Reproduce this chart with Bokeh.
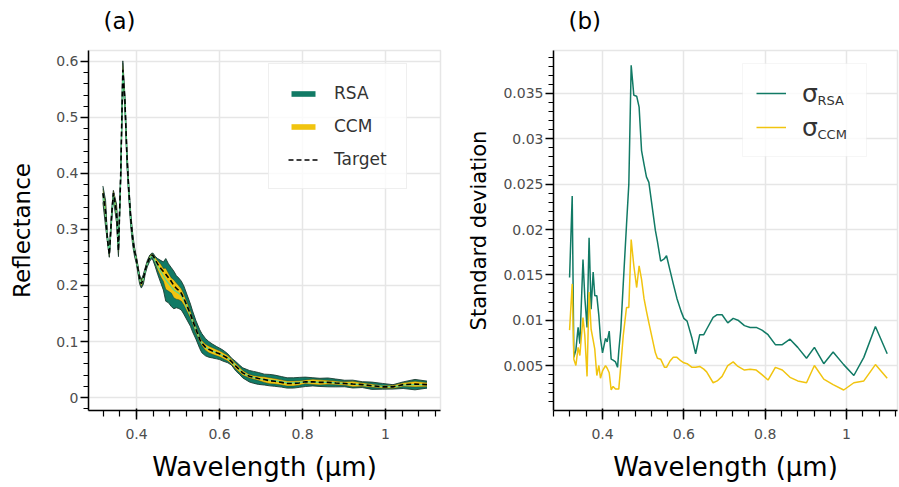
from bokeh.plotting import figure
from bokeh.layouts import row
from bokeh.models import (Range1d, Legend, LegendItem, Label, CustomJSTickFormatter,
                          SingleIntervalTicker, BoxAnnotation, Title)
from bokeh.embed import file_html
from bokeh.resources import INLINE

# ---------------- data ----------------
wavelength = [0.319, 0.3255, 0.3295, 0.3345, 0.340, 0.3443, 0.352, 0.3565, 0.362, 0.367,
              0.372, 0.377, 0.381, 0.386, 0.391, 0.395, 0.400, 0.4074, 0.4115, 0.4165,
              0.4213, 0.426, 0.432, 0.437, 0.440, 0.445, 0.451, 0.459, 0.4647, 0.4705,
              0.477, 0.484, 0.490, 0.496, 0.502, 0.508, 0.514, 0.530, 0.535, 0.543,
              0.5525, 0.5574, 0.566, 0.574, 0.583, 0.593, 0.600, 0.608, 0.620, 0.629,
              0.639, 0.649, 0.656, 0.672, 0.682, 0.694, 0.708, 0.7213, 0.733, 0.749,
              0.763, 0.778, 0.792, 0.807, 0.825, 0.842, 0.861, 0.880, 0.9016, 0.921,
              0.944, 0.967, 0.993, 1.018, 1.0425, 1.071, 1.100]

target = [0.365, 0.330, 0.285, 0.255, 0.325, 0.365, 0.330, 0.262, 0.400, 0.585,
          0.530, 0.430, 0.375, 0.320, 0.282, 0.262, 0.245, 0.212, 0.203, 0.212,
          0.228, 0.240, 0.250, 0.254, 0.253, 0.246, 0.238, 0.230, 0.225, 0.220,
          0.214, 0.207, 0.200, 0.195, 0.191, 0.186, 0.177, 0.149, 0.138, 0.122,
          0.104, 0.097, 0.090, 0.086, 0.083, 0.080, 0.078, 0.075, 0.070, 0.064,
          0.056, 0.049, 0.044, 0.038, 0.036, 0.034, 0.032, 0.030, 0.029, 0.027,
          0.025, 0.025, 0.026, 0.028, 0.028, 0.027, 0.027, 0.026, 0.025, 0.024,
          0.023, 0.021, 0.019, 0.019, 0.023, 0.024, 0.023]

rsa_mean = [0.363, 0.328, 0.287, 0.257, 0.323, 0.362, 0.328, 0.264, 0.398, 0.582,
            0.528, 0.428, 0.373, 0.318, 0.281, 0.261, 0.244, 0.211, 0.203, 0.211,
            0.227, 0.239, 0.249, 0.253, 0.251, 0.243, 0.234, 0.224, 0.217, 0.210,
            0.204, 0.197, 0.192, 0.189, 0.186, 0.182, 0.174, 0.147, 0.136, 0.121,
            0.104, 0.097, 0.090, 0.086, 0.083, 0.080, 0.078, 0.075, 0.070, 0.064,
            0.056, 0.049, 0.044, 0.038, 0.036, 0.034, 0.032, 0.031, 0.030, 0.028,
            0.026, 0.026, 0.027, 0.028, 0.028, 0.027, 0.027, 0.026, 0.025, 0.024,
            0.023, 0.021, 0.020, 0.019, 0.022, 0.023, 0.023]

ccm_mean = [0.364, 0.329, 0.286, 0.256, 0.324, 0.364, 0.329, 0.263, 0.399, 0.584,
            0.529, 0.429, 0.374, 0.319, 0.282, 0.262, 0.245, 0.212, 0.203, 0.212,
            0.228, 0.240, 0.250, 0.254, 0.252, 0.245, 0.236, 0.226, 0.219, 0.212,
            0.206, 0.200, 0.194, 0.190, 0.187, 0.183, 0.175, 0.148, 0.137, 0.121,
            0.104, 0.097, 0.090, 0.086, 0.083, 0.080, 0.078, 0.075, 0.070, 0.064,
            0.056, 0.049, 0.044, 0.038, 0.036, 0.034, 0.032, 0.030, 0.029, 0.027,
            0.025, 0.025, 0.026, 0.028, 0.028, 0.027, 0.027, 0.026, 0.025, 0.024,
            0.023, 0.021, 0.019, 0.019, 0.023, 0.024, 0.023]

sd_rsa = [0.0147, 0.0237, 0.0059, 0.0067, 0.0092, 0.0074, 0.0167, 0.0125, 0.0092, 0.0191,
          0.0112, 0.0153, 0.0127, 0.0127, 0.0105, 0.0080, 0.0064, 0.0080, 0.0076, 0.0088,
          0.0057, 0.0056, 0.0054, 0.0048, 0.0066, 0.0090, 0.0140, 0.0205, 0.0250, 0.0381,
          0.0348, 0.0347, 0.0335, 0.0287, 0.0272, 0.0258, 0.0252, 0.0199, 0.0187, 0.0165,
          0.0168, 0.0171, 0.0155, 0.0140, 0.0124, 0.0110, 0.0102, 0.0099, 0.0080, 0.0063,
          0.0084, 0.0084, 0.0090, 0.0103, 0.0106, 0.0106, 0.0097, 0.0102, 0.0100, 0.0094,
          0.0092, 0.0092, 0.0089, 0.0084, 0.0073, 0.0073, 0.0079, 0.0070, 0.0058, 0.0070,
          0.0052, 0.0065, 0.0051, 0.0039, 0.0059, 0.0093, 0.0063]

sd_ccm = [0.0089, 0.0140, 0.0057, 0.0050, 0.0070, 0.0061, 0.0103, 0.0083, 0.0038, 0.0131,
          0.0090, 0.0078, 0.0068, 0.0039, 0.0050, 0.0036, 0.0044, 0.0050, 0.0047, 0.0042,
          0.0023, 0.0027, 0.0024, 0.0024, 0.0024, 0.0050, 0.0083, 0.0114, 0.0114, 0.0189,
          0.0160, 0.0136, 0.0160, 0.0145, 0.0124, 0.0110, 0.0097, 0.0064, 0.0058, 0.0057,
          0.0048, 0.0048, 0.0055, 0.0059, 0.0059, 0.0055, 0.0053, 0.0052, 0.0048, 0.0048,
          0.0049, 0.0046, 0.0043, 0.0031, 0.0033, 0.0038, 0.0050, 0.0054, 0.0049, 0.0045,
          0.0046, 0.0045, 0.0040, 0.0034, 0.0048, 0.0045, 0.0037, 0.0033, 0.0031, 0.0050,
          0.0035, 0.0029, 0.0023, 0.0031, 0.0033, 0.0051, 0.0036]

series_names = ["RSA", "CCM", "Target"]
sigma_subscripts = ["RSA", "CCM"]
panel_titles = ["(a)", "(b)"]

# bands: mean +/- one standard deviation
rsa_lo = [m - s for m, s in zip(rsa_mean, sd_rsa)]
rsa_hi = [m + s for m, s in zip(rsa_mean, sd_rsa)]
ccm_lo = [m - s for m, s in zip(ccm_mean, sd_ccm)]
ccm_hi = [m + s for m, s in zip(ccm_mean, sd_ccm)]

# ---------------- style ----------------
GREEN = "#117a65"
YELLOW = "#f1c40f"
MINT = "#58d68d"
EDGE = "#1c3b30"
FONT = "DejaVu Sans"
TICK_COLOR = "#4d4d4d"
H = 485
FRAME_TOP = 50
FRAME_BOTTOM = 410

fmt_code = r"return tick.toFixed(4).replace(/\.?0+$/, '');"


def style(p, yint, ylabel, ylabel_size, ylabel_standoff, title):
    p.background_fill_color = "white"
    p.border_fill_color = "white"
    p.outline_line_color = "#e6e6e6"
    p.outline_line_width = 1.5
    p.xaxis.ticker = SingleIntervalTicker(interval=0.2, num_minor_ticks=5)
    p.yaxis.ticker = SingleIntervalTicker(interval=yint, num_minor_ticks=5)
    for ax in (p.xaxis[0], p.yaxis[0]):
        ax.formatter = CustomJSTickFormatter(code=fmt_code)
        ax.axis_line_color = "black"
        ax.axis_line_width = 1.5
        ax.major_tick_line_color = "black"
        ax.major_tick_line_width = 1.5
        ax.minor_tick_line_color = "black"
        ax.minor_tick_line_width = 1.2
        ax.major_label_text_font = FONT
        ax.major_label_text_font_size = "14px"
        ax.major_label_text_color = TICK_COLOR
        ax.axis_label_text_font = FONT
        ax.axis_label_text_font_style = "normal"
        ax.axis_label_text_color = "black"
    p.xaxis.major_tick_out = 9
    p.xaxis.major_tick_in = 2
    p.xaxis.minor_tick_out = 6
    p.xaxis.minor_tick_in = 0
    p.xaxis.major_label_standoff = 9
    p.xaxis.axis_label = "Wavelength (µm)"
    p.xaxis.axis_label_text_font_size = "26px"
    p.xaxis.axis_label_standoff = 10
    p.yaxis.major_tick_out = 8
    p.yaxis.major_tick_in = 0
    p.yaxis.minor_tick_out = 5
    p.yaxis.minor_tick_in = 0
    p.yaxis.major_label_standoff = 2
    p.yaxis.axis_label = ylabel
    p.yaxis.axis_label_text_font_size = ylabel_size
    p.yaxis.axis_label_standoff = ylabel_standoff
    p.xgrid.grid_line_color = "#e6e6e6"
    p.ygrid.grid_line_color = "#e6e6e6"
    p.xgrid.grid_line_width = 1.5
    p.ygrid.grid_line_width = 1.5
    # thin spacer panel next to the frame, then the panel letter above it
    p.add_layout(Title(text=" ", text_font=FONT, text_font_size="10px", standoff=4), "above")
    p.add_layout(Title(text=title, text_font=FONT, text_font_size="23px",
                       text_font_style="normal", text_color="black",
                       align="left", offset=15, standoff=0), "above")


# ---------------- panel (a) ----------------
pa = figure(width=460, height=H, output_backend="svg", toolbar_location=None,
            x_range=Range1d(0.2843, 1.1325), y_range=Range1d(-0.0232, 0.6196),
            min_border_left=88, min_border_right=20, min_border_top=FRAME_TOP,
            min_border_bottom=H - FRAME_BOTTOM)
style(pa, 0.1, "Reflectance", "23px", 18, panel_titles[0])

r_rsa = pa.varea(x=wavelength, y1=rsa_lo, y2=rsa_hi, fill_color=GREEN)
pa.line(wavelength, rsa_lo, line_color=EDGE, line_width=0.9)
pa.line(wavelength, rsa_hi, line_color=EDGE, line_width=0.9)
r_ccm = pa.varea(x=wavelength, y1=ccm_lo, y2=ccm_hi, fill_color=YELLOW)
pa.line(wavelength, ccm_lo, line_color=EDGE, line_width=0.6, line_alpha=0.7)
pa.line(wavelength, ccm_hi, line_color=EDGE, line_width=0.6, line_alpha=0.7)
pa.line(wavelength, rsa_mean, line_color=MINT, line_width=1.2)
r_tgt = pa.line(wavelength, target, line_color="black", line_width=1.6, line_dash="5 3")

leg_a = Legend(items=[LegendItem(label=series_names[0], renderers=[r_rsa]),
                      LegendItem(label=series_names[1], renderers=[r_ccm]),
                      LegendItem(label=series_names[2], renderers=[r_tgt])],
               location=(180, 221))
leg_a.label_text_font = FONT
leg_a.label_text_font_size = "17px"
leg_a.label_text_color = "#333333"
leg_a.glyph_width = 30
leg_a.glyph_height = 7
leg_a.label_height = 20
leg_a.label_standoff = 16
leg_a.padding = 19
leg_a.spacing = 13
leg_a.margin = 0
leg_a.border_line_color = "#e0e0e0"
leg_a.border_line_width = 1
leg_a.background_fill_alpha = 0.8
pa.add_layout(leg_a)

# ---------------- panel (b) ----------------
pb = figure(width=439, height=H, output_backend="svg", toolbar_location=None,
            x_range=Range1d(0.2795, 1.1253), y_range=Range1d(0.00004, 0.03974),
            min_border_left=93, min_border_right=2, min_border_top=FRAME_TOP,
            min_border_bottom=H - FRAME_BOTTOM)
style(pb, 0.005, "Standard deviation", "21px", 9, panel_titles[1])

# legend frame drawn as a box behind a transparent legend so that subscripts stay on top
pb.add_layout(BoxAnnotation(left=189, right=313, bottom=254, top=347,
                            left_units="screen", right_units="screen",
                            bottom_units="screen", top_units="screen",
                            fill_color="white", fill_alpha=0.8,
                            line_color="#e0e0e0", line_width=1, level="underlay"))

l_rsa = pb.line(wavelength, sd_rsa, line_color=GREEN, line_width=1.5)
l_ccm = pb.line(wavelength, sd_ccm, line_color=YELLOW, line_width=1.5)

leg_b = Legend(items=[LegendItem(label="σ", renderers=[l_rsa]),
                      LegendItem(label="σ", renderers=[l_ccm])],
               location=(189, 254))
leg_b.label_text_font = FONT
leg_b.label_text_font_size = "25px"
leg_b.label_text_color = "#333333"
leg_b.glyph_width = 30
leg_b.glyph_height = 20
leg_b.label_height = 30
leg_b.label_width = 49
leg_b.label_standoff = 16
leg_b.padding = 14
leg_b.spacing = 4
leg_b.margin = 0
leg_b.border_line_alpha = 0
leg_b.background_fill_alpha = 0
pb.add_layout(leg_b)

for i, sub in enumerate(sigma_subscripts):
    pb.add_layout(Label(x=264, y=310 - 34 * i, x_units="screen", y_units="screen",
                        text=sub, text_font=FONT, text_font_size="13px",
                        text_color="#333333", text_baseline="alphabetic",
                        level="overlay"))

layout = row(pa, pb)
open("out.html", "w").write(file_html(layout, INLINE))
